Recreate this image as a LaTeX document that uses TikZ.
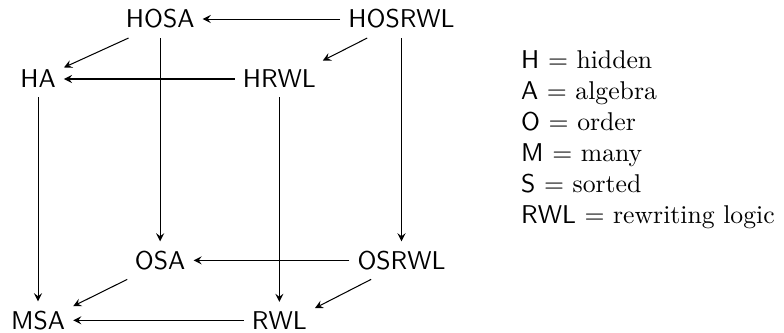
\documentclass[tikz,border=0pt]{standalone}
\usepackage{tikz}
\usetikzlibrary{arrows, positioning}

\begin{document}
\begin{tikzpicture}[node distance=3.3cm]
    \tikzstyle{logic} = [font=\sffamily, inner xsep=3pt, inner ysep=3.5pt]
    \tikzstyle{legend} = [align=left, inner sep=0pt, anchor=west]
    \tikzstyle{arrow} = [->,>=stealth]
    \useasboundingbox (-0.52,1.08) rectangle (10.2,-3.47);

    \node (HA) [logic] {HA};
    \node (HRWL) [logic, right of=HA] {HRWL};
    \node (HOSA) [logic, right of=HA, xshift=-1.63cm, yshift=0.82cm] {HOSA};
    \node (HOSRWL) [logic, right of=HOSA] {HOSRWL};
    \node (MSA) [logic, below of=HA] {MSA};
    \node (RWL) [logic, right of=MSA] {RWL};
    \node (OSA) [logic, below of=HOSA] {OSA};
    \node (OSRWL) [logic, right of=OSA] {OSRWL};
    \node (key) [right of=HRWL, legend, yshift=-0.83cm] {%
        \textsf{H} = hidden\\
        \textsf{A} = algebra\\
        \textsf{O} = order\\
        \textsf{M} = many\\
        \textsf{S} = sorted\\
        \textsf{RWL} = rewriting logic};

    \draw [arrow] (HOSRWL) -- (HOSA);
    \draw [arrow] (HRWL) -- (HA);
    \draw [arrow] (OSRWL) -- (OSA);
    \draw [arrow] (RWL) -- (MSA);
    \draw [arrow] (HOSA.211) -- (HA.24);
    \draw [arrow] (HOSRWL.209) -- (HRWL.23);
    \draw [arrow] (OSA.210) -- (MSA.22);
    \draw [arrow] (OSRWL.212) -- (RWL.19);
    \draw [arrow] (HOSA) -- (OSA);
    \draw [arrow] (HOSRWL) -- (OSRWL);
    \draw [arrow] (HA) -- (MSA);
    \draw [arrow] (HRWL) -- (RWL);
\end{tikzpicture}
\end{document}
